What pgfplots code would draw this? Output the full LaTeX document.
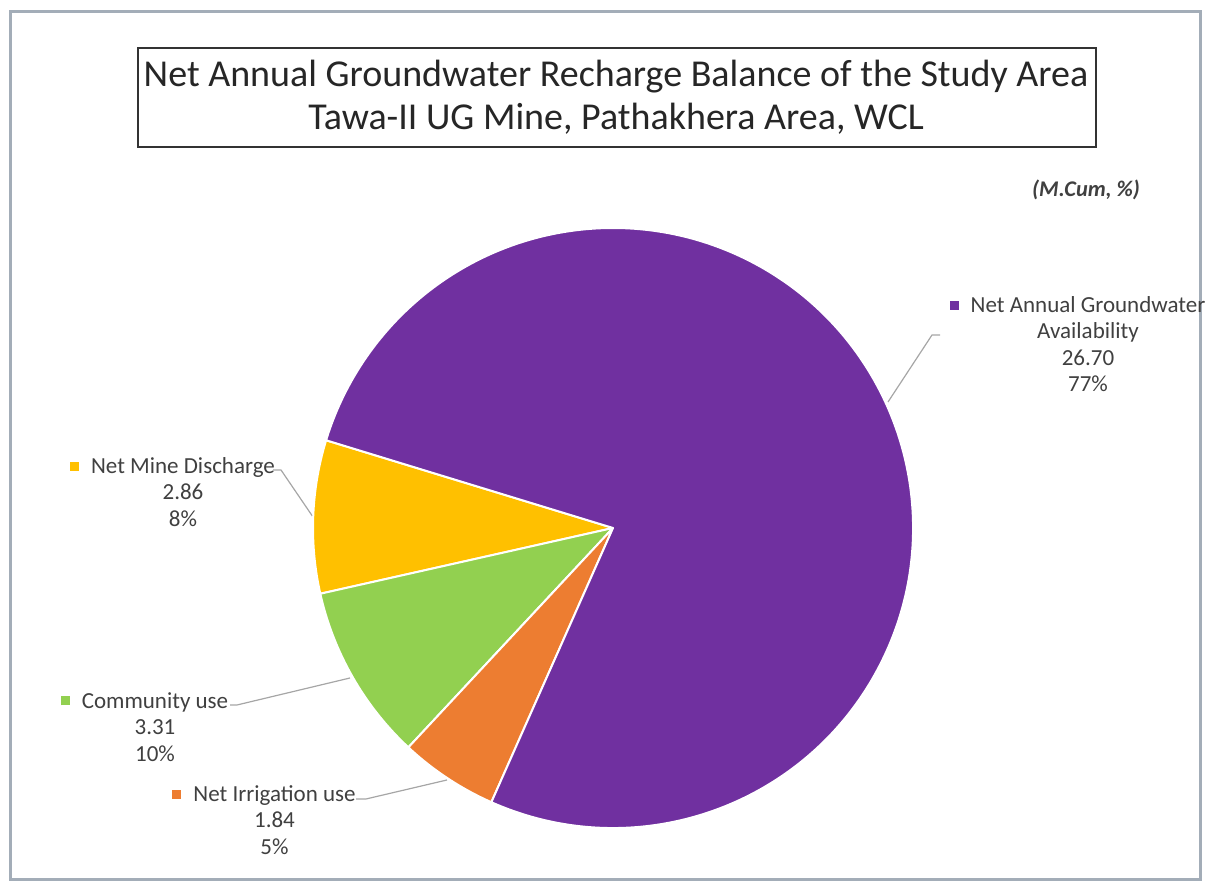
\documentclass[border=0pt]{standalone}
\usepackage{pgfplots}
\usepackage{pgfplotstable}
\usepackage{fontspec}
\pgfplotsset{compat=1.18}
\setmainfont{Carlito}

\definecolor{cpur}{HTML}{7030A0}
\definecolor{cyel}{HTML}{FFC000}
\definecolor{cgrn}{HTML}{92D050}
\definecolor{corg}{HTML}{ED7D31}
\definecolor{labeltext}{HTML}{404040}
\definecolor{leader}{HTML}{A6A6A6}
\definecolor{frame}{HTML}{A3ADB8}

\pgfkeys{/pgf/number format/assume math mode=true}

% slices counter-clockwise from the yellow one; lx, ly = label position (px)
\pgfplotstableread[col sep=comma]{
name,value,colour,lx,ly
Net Mine Discharge,2.86,cyel,183,429
Community use,3.31,cgrn,155,194
Net Irrigation use,1.84,corg,274.5,101
Net Annual Groundwater Availability,26.70,cpur,1088,590
}\piedata

\newcommand\labelfont{\fontsize{11.5}{13.25}\selectfont}
\newcommand\titlefont{\fontsize{19}{22}\selectfont}

\begin{document}
\begin{tikzpicture}
\begin{axis}[
  x=0.5pt, y=0.5pt,
  xmin=0, xmax=1205, ymin=0, ymax=886,
  hide axis, clip=false, disabledatascaling,
]
% outer frame and title box
\draw[frame, line width=1.5pt] (axis cs:10,874) rectangle (axis cs:1200,6);
\draw[black!80, line width=1pt] (axis cs:138,838) rectangle (axis cs:1096,739);
\node[anchor=base, font=\titlefont, text=black!85]
  at (axis cs:616,799) {Net Annual Groundwater Recharge Balance of the Study Area};
\node[anchor=base, font=\titlefont, text=black!85]
  at (axis cs:616,756) {Tawa-II UG Mine, Pathakhera Area, WCL};
\node[anchor=base east, font=\fontsize{11.2}{13}\selectfont\bfseries\itshape, text=labeltext]
  at (axis cs:1147,689) {(M.Cum, \%)};

% leader lines
\draw[leader, line width=0.6pt] (axis cs:888,484) -- (axis cs:932,551) -- (axis cs:940,551);
\draw[leader, line width=0.6pt] (axis cs:273,416) -- (axis cs:281,416) -- (axis cs:313,369);
\draw[leader, line width=0.6pt] (axis cs:230,181) -- (axis cs:237,181) -- (axis cs:350,208);
\draw[leader, line width=0.6pt] (axis cs:356,87) -- (axis cs:366,87) -- (axis cs:447,106);

\pgfplotsextra{%
  \pgfplotstablegetrowsof{\piedata}%
  \pgfmathtruncatemacro\nrows{\pgfplotsretval-1}%
  \gdef\total{0}%
  \foreach \i in {0,...,\nrows}{%
    \pgfplotstablegetelem{\i}{value}\of\piedata
    \pgfmathsetmacro\tmp{\total+\pgfplotsretval}\xdef\total{\tmp}}%
  \gdef\angA{163}%
  \foreach \i in {0,...,\nrows}{%
    \pgfplotstablegetelem{\i}{value}\of\piedata \edef\sval{\pgfplotsretval}%
    \pgfplotstablegetelem{\i}{colour}\of\piedata \edef\scol{\pgfplotsretval}%
    \pgfmathsetmacro\angB{\angA+360*\sval/\total}%
    \fill[fill=\scol, draw=white, line width=1pt, line join=round]
      (axis cs:613,358) -- ++(\angA:150pt)
      arc[start angle=\angA, end angle=\angB, radius=150pt] -- cycle;
    \xdef\angA{\angB}}%
  \foreach \i in {0,...,\nrows}{%
    \pgfplotstablegetelem{\i}{value}\of\piedata \edef\sval{\pgfplotsretval}%
    \pgfplotstablegetelem{\i}{colour}\of\piedata \edef\scol{\pgfplotsretval}%
    \pgfplotstablegetelem{\i}{name}\of\piedata \edef\sname{\pgfplotsretval}%
    \pgfplotstablegetelem{\i}{lx}\of\piedata \edef\lx{\pgfplotsretval}%
    \pgfplotstablegetelem{\i}{ly}\of\piedata \edef\ly{\pgfplotsretval}%
    \pgfmathtruncatemacro\pct{round(100*\sval/\total)}%
    \node[anchor=north, text width=118pt, align=flush center, inner sep=0pt,
          font=\labelfont, text=labeltext] at (axis cs:\lx,\ly)
      {\llap{\textcolor{\scol}{\rule[0.25ex]{4.5pt}{4.5pt}}\hspace{6pt}}\sname\\
       \pgfmathprintnumber[fixed,fixed zerofill,precision=2]{\sval}\\
       \pct\%};}%
}
\end{axis}
\pgfresetboundingbox
\useasboundingbox (0,0) rectangle (602.5pt,443pt);
\end{tikzpicture}
\end{document}
